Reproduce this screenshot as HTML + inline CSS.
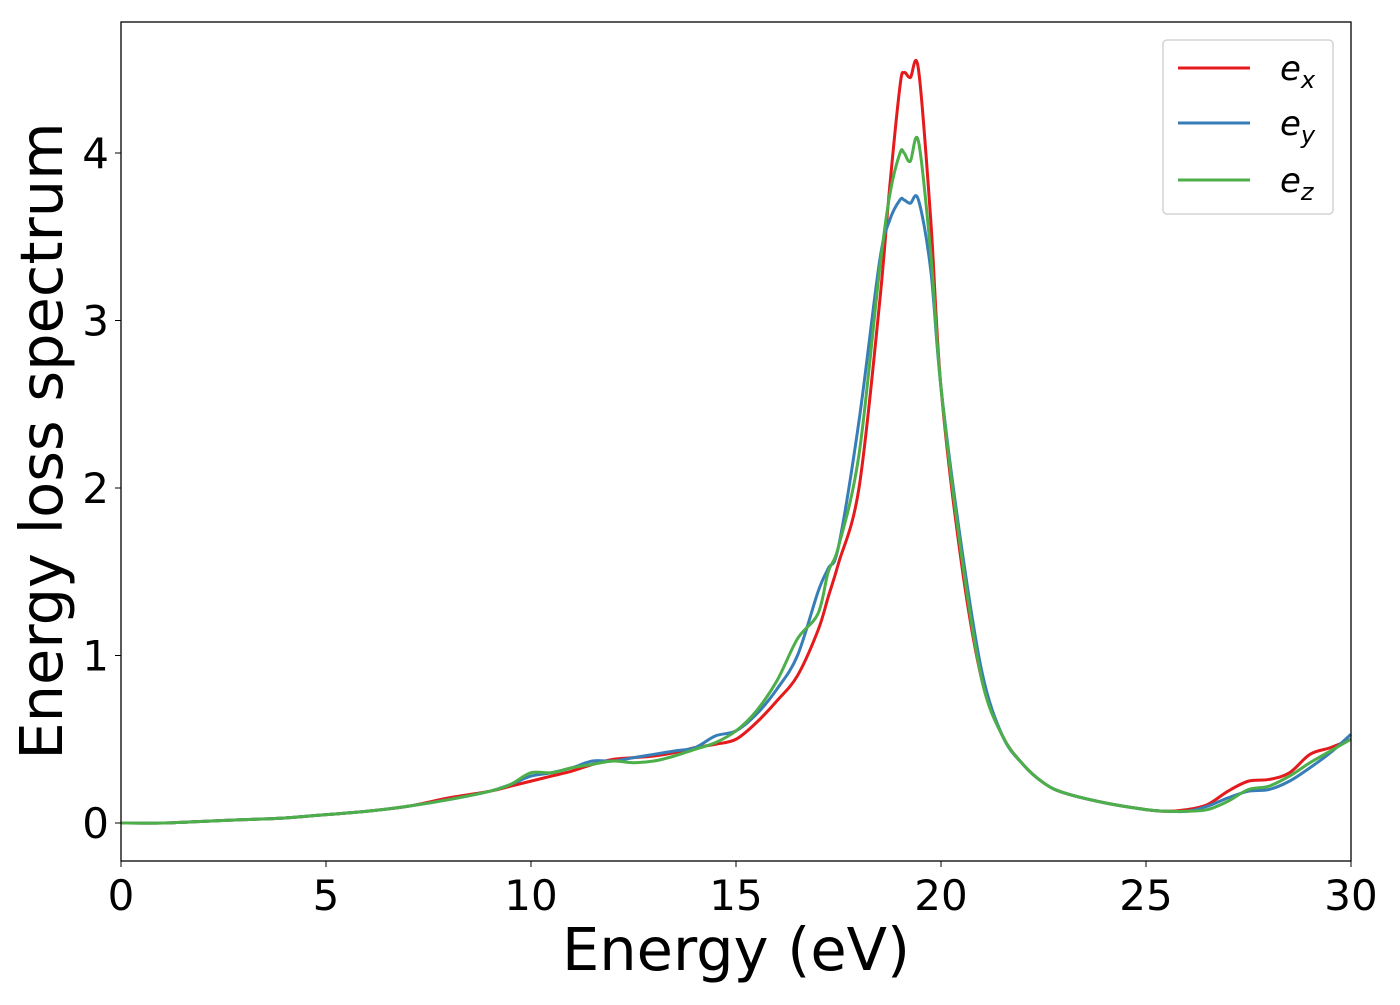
<!DOCTYPE html>
<html><head><meta charset="utf-8"><style>
body{margin:0;background:#fff;}
svg text{font-family:"DejaVu Sans","Liberation Sans",sans-serif;fill:#000;}
</style></head><body>
<svg id="chart" width="1400" height="1000" viewBox="0 0 1400 1000" xmlns="http://www.w3.org/2000/svg">
<rect x="0" y="0" width="1400" height="1000" fill="#fff"/>
<g id="series"></g>
<rect x="121" y="22" width="1230" height="839" fill="none" stroke="#000" stroke-width="1.3"/>
<g id="ticks"></g>
<text x="736" y="970" font-size="59" text-anchor="middle">Energy (eV)</text>
<text transform="translate(62,441) rotate(-90)" font-size="59" text-anchor="middle">Energy loss spectrum</text>
<g>
<rect x="1163" y="40" width="170" height="174" rx="4" fill="#fff" stroke="#ccc" stroke-width="1.3"/>
<line x1="1178" y1="68" x2="1250" y2="68" stroke="#e41a1c" stroke-width="3"/>
<text x="1280" y="80" font-size="34" font-style="italic">e<tspan font-size="24" dy="8">x</tspan></text>
<line x1="1178" y1="123" x2="1250" y2="123" stroke="#377eb8" stroke-width="3"/>
<text x="1280" y="135" font-size="34" font-style="italic">e<tspan font-size="24" dy="8">y</tspan></text>
<line x1="1178" y1="180" x2="1250" y2="180" stroke="#4daf4a" stroke-width="3"/>
<text x="1280" y="192" font-size="34" font-style="italic">e<tspan font-size="24" dy="8">z</tspan></text>
</g>
</svg>
<script>
const energies=[0,1,2,3,4,5,6,7,8,9,9.5,10,10.5,11,11.5,12,12.5,13,13.5,14,14.5,15,15.5,16,16.5,17,17.25,17.5,18,18.5,18.75,19,19.1,19.25,19.45,19.75,20,20.5,21,21.5,22,22.5,23,24,25,25.5,26,26.5,27,27.5,28,28.5,29,29.5,30];
const ex=[0,0,0.01,0.02,0.03,0.05,0.07,0.1,0.15,0.19,0.22,0.25,0.28,0.31,0.35,0.38,0.39,0.4,0.42,0.45,0.47,0.5,0.6,0.73,0.88,1.15,1.35,1.55,2.0,3.1,3.8,4.4,4.48,4.45,4.5,3.6,2.6,1.55,0.85,0.52,0.35,0.24,0.18,0.12,0.08,0.07,0.08,0.11,0.19,0.25,0.26,0.3,0.41,0.45,0.5];
const ey=[0,0,0.01,0.02,0.03,0.05,0.07,0.1,0.14,0.19,0.23,0.28,0.3,0.33,0.37,0.37,0.39,0.41,0.43,0.45,0.52,0.55,0.65,0.8,1.0,1.38,1.52,1.65,2.4,3.35,3.6,3.72,3.72,3.7,3.72,3.3,2.6,1.65,0.9,0.52,0.35,0.24,0.18,0.12,0.08,0.07,0.07,0.1,0.15,0.19,0.2,0.25,0.33,0.42,0.53];
const ez=[0,0,0.01,0.02,0.03,0.05,0.07,0.1,0.14,0.19,0.23,0.3,0.3,0.33,0.35,0.37,0.36,0.37,0.4,0.44,0.48,0.55,0.67,0.85,1.1,1.25,1.5,1.65,2.2,3.3,3.75,4.0,4.0,3.95,4.07,3.4,2.6,1.6,0.85,0.52,0.35,0.24,0.18,0.12,0.08,0.07,0.07,0.08,0.13,0.2,0.22,0.28,0.36,0.43,0.5];
const xTicks=[0,5,10,15,20,25,30];
const yTicks=[0,1,2,3,4];
const X=e=>121+41*e, Y=v=>823-167.5*v;
const NS="http://www.w3.org/2000/svg";
function path(vals){let pts=energies.map((e,i)=>[X(e),Y(vals[i])]);let d="M"+pts[0][0]+","+pts[0][1];
for(let i=0;i<pts.length-1;i++){const p0=pts[Math.max(0,i-1)],p1=pts[i],p2=pts[i+1],p3=pts[Math.min(pts.length-1,i+2)];
d+=" C"+(p1[0]+(p2[0]-p0[0])/6)+","+(p1[1]+(p2[1]-p0[1])/6)+" "+(p2[0]-(p3[0]-p1[0])/6)+","+(p2[1]-(p3[1]-p1[1])/6)+" "+p2[0]+","+p2[1];}return d;}
const g=document.getElementById("series");
[[ex,"#e41a1c","series-ex"],[ey,"#377eb8","series-ey"],[ez,"#4daf4a","series-ez"]].forEach(s=>{
const p=document.createElementNS(NS,"path");p.setAttribute("d",path(s[0]));p.setAttribute("fill","none");p.setAttribute("stroke",s[1]);p.setAttribute("stroke-width","3");p.setAttribute("stroke-linejoin","round");


g.appendChild(p);});
const t=document.getElementById("ticks");
xTicks.forEach(v=>{const l=document.createElementNS(NS,"line");l.setAttribute("x1",X(v));l.setAttribute("x2",X(v));l.setAttribute("y1",861);l.setAttribute("y2",867);l.setAttribute("stroke","#000");


t.appendChild(l);
const tx=document.createElementNS(NS,"text");tx.setAttribute("x",X(v));tx.setAttribute("y",910);tx.setAttribute("font-size","42");tx.setAttribute("text-anchor","middle");tx.textContent=v;


t.appendChild(tx);});
yTicks.forEach(v=>{const l=document.createElementNS(NS,"line");l.setAttribute("x1",115);l.setAttribute("x2",121);l.setAttribute("y1",Y(v));l.setAttribute("y2",Y(v));l.setAttribute("stroke","#000");


t.appendChild(l);
const tx=document.createElementNS(NS,"text");tx.setAttribute("x",109);tx.setAttribute("y",Y(v)+15);tx.setAttribute("font-size","42");tx.setAttribute("text-anchor","end");tx.textContent=v;


t.appendChild(tx);});
</script>
</body></html>
